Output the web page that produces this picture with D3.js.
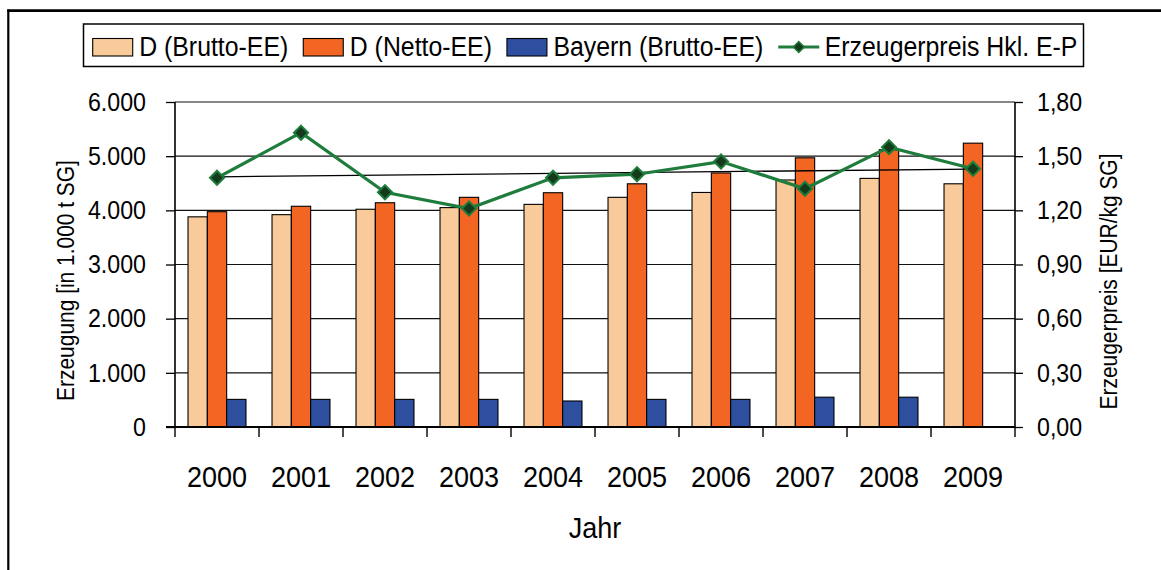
<!DOCTYPE html>
<html>
<head>
<meta charset="utf-8">
<script src="https://cdn.jsdelivr.net/npm/d3@7"></script>
<style>
  html, body { margin: 0; padding: 0; background: #fff; }
  svg { display: block; font-family: "Liberation Sans", Arial, sans-serif; }
</style>
</head>
<body>
<script>
// ---- data ----
const years = ["2000","2001","2002","2003","2004","2005","2006","2007","2008","2009"];
const bruttoD = [3880, 3920, 4020, 4050, 4110, 4240, 4330, 4560, 4590, 4490];
const nettoD  = [3975, 4075, 4140, 4240, 4325, 4490, 4690, 4970, 5120, 5240];
const bayern  = [510, 510, 510, 510, 480, 510, 510, 550, 550, null];
const price   = [1.38, 1.63, 1.30, 1.21, 1.38, 1.40, 1.47, 1.32, 1.55, 1.43];
const leftTicks  = [0, 1000, 2000, 3000, 4000, 5000, 6000];
const rightTicks = [0, 0.3, 0.6, 0.9, 1.2, 1.5, 1.8];
const seriesNames = ["D (Brutto-EE)", "D (Netto-EE)", "Bayern (Brutto-EE)"];
const lineName = "Erzeugerpreis Hkl. E-P";
const seriesColors = ["#F9CB9A", "#F26522", "#2E4EA0"];
const lineColor = "#1E7D3C";
const markerFill = "#163A1C";

const W = 1161, H = 570;
const plot = {left: 175, right: 1015, top: 102, bottom: 427};

const de = d3.formatLocale({decimal: ",", thousands: ".", grouping: [3], currency: ["", " €"]});
const fmtL = de.format(",.0f");
const fmtR = de.format(".2f");

const svg = d3.select("body").append("svg").attr("width", W).attr("height", H);

function condense(sel, f) {
  sel.each(function () {
    const w = this.getComputedTextLength();
    d3.select(this).attr("textLength", w * f).attr("lengthAdjust", "spacingAndGlyphs");
  });
}

// frame (left + top edges)
svg.append("line").attr("x1", 8.3).attr("x2", 8.3).attr("y1", 9.5).attr("y2", H)
  .attr("stroke", "#000").attr("stroke-width", 2.2);
svg.append("line").attr("x1", 7.2).attr("x2", W).attr("y1", 10.7).attr("y2", 10.7)
  .attr("stroke", "#000").attr("stroke-width", 2.8);

// scales
const x = d3.scaleBand().domain(years).range([plot.left, plot.right])
  .paddingInner(0.31).paddingOuter(0.155);
const xs = d3.scaleBand().domain([0, 1, 2]).range([0, x.bandwidth()]).padding(0);
const yL = d3.scaleLinear().domain([0, 6000]).range([plot.bottom, plot.top]);
const yR = d3.scaleLinear().domain([0, 1.8]).range([plot.bottom, plot.top]);

// gridlines
svg.append("g").selectAll("line").data(leftTicks.filter(d => d > 0)).join("line")
  .attr("x1", plot.left).attr("x2", plot.right)
  .attr("y1", d => yL(d)).attr("y2", d => yL(d))
  .attr("stroke", "#111").attr("stroke-width", 1.1);

// bars
const series = [bruttoD, nettoD, bayern];
series.forEach((vals, si) => {
  svg.append("g").selectAll("rect")
    .data(years.map((y, i) => ({year: y, v: vals[i]})).filter(d => d.v != null))
    .join("rect")
    .attr("x", d => x(d.year) + xs(si))
    .attr("width", xs.bandwidth())
    .attr("y", d => yL(d.v))
    .attr("height", d => yL(0) - yL(d.v))
    .attr("fill", seriesColors[si])
    .attr("stroke", "#000").attr("stroke-width", 1.1);
});

// left axis
const axL = svg.append("g").attr("transform", `translate(${plot.left},0)`)
  .call(d3.axisLeft(yL).tickValues(leftTicks).tickFormat(fmtL).tickSize(9).tickPadding(20));
axL.select(".domain").attr("stroke", "#000").attr("stroke-width", 1.6).attr("d", `M-9,${plot.bottom}H0V${plot.top}`);
axL.selectAll(".tick line").attr("stroke", "#000").attr("stroke-width", 1.3);
axL.selectAll("text").attr("font-size", 25.5).attr("fill", "#000")
  .attr("font-family", "Liberation Sans, Arial, sans-serif");
condense(axL.selectAll("text"), 0.91);

// right axis
const axR = svg.append("g").attr("transform", `translate(${plot.right},0)`)
  .call(d3.axisRight(yR).tickValues(rightTicks).tickFormat(fmtR).tickSize(8).tickPadding(14));
axR.select(".domain").attr("stroke", "#000").attr("stroke-width", 1.6).attr("d", `M0,${plot.bottom}V${plot.top}`);
axR.selectAll(".tick line").attr("stroke", "#000").attr("stroke-width", 1.3);
axR.selectAll("text").attr("font-size", 25.5).attr("fill", "#000")
  .attr("font-family", "Liberation Sans, Arial, sans-serif");
condense(axR.selectAll("text"), 0.91);

// x axis
const axX = svg.append("g").attr("transform", `translate(0,${plot.bottom})`)
  .call(d3.axisBottom(x).tickSize(0).tickPadding(38.5));
axX.select(".domain").remove();
axX.selectAll("text").attr("font-size", 30).attr("fill", "#000")
  .attr("font-family", "Liberation Sans, Arial, sans-serif");
condense(axX.selectAll("text"), 0.9);
const bounds = d3.range(years.length + 1).map(i => plot.left + i * x.step());
svg.append("line").attr("x1", plot.left - 9).attr("x2", plot.right)
  .attr("y1", plot.bottom).attr("y2", plot.bottom).attr("stroke", "#000").attr("stroke-width", 1.8);
svg.append("g").selectAll("line").data(bounds).join("line")
  .attr("x1", d => d).attr("x2", d => d)
  .attr("y1", plot.bottom).attr("y2", plot.bottom + 10)
  .attr("stroke", "#000").attr("stroke-width", 1.4);

// trend line (linear regression of price)
const xi = d3.range(years.length);
const mx = d3.mean(xi), my = d3.mean(price);
const slope = d3.sum(xi, i => (i - mx) * (price[i] - my)) / d3.sum(xi, i => (i - mx) ** 2);
const icpt = my - slope * mx;
const cx = i => x(years[i]) + x.bandwidth() / 2;
svg.append("line")
  .attr("x1", cx(0)).attr("x2", cx(years.length - 1))
  .attr("y1", yR(icpt)).attr("y2", yR(icpt + slope * (years.length - 1)))
  .attr("stroke", "#000").attr("stroke-width", 1.3);

// price line
const line = d3.line().x((d, i) => cx(i)).y(d => yR(d));
svg.append("path").datum(price).attr("d", line)
  .attr("fill", "none").attr("stroke", lineColor).attr("stroke-width", 3.2);
const diamond = d3.symbol().type(d3.symbolDiamond2 || d3.symbolDiamond).size(150);
svg.append("g").selectAll("path").data(price).join("path")
  .attr("transform", (d, i) => `translate(${cx(i)},${yR(d)}) rotate(0)`)
  .attr("d", d3.symbol().type(d3.symbolSquare).size(100))
  .attr("transform", (d, i) => `translate(${cx(i)},${yR(d)}) rotate(45)`)
  .attr("fill", markerFill).attr("stroke", lineColor).attr("stroke-width", 2);

// axis titles
const tL = svg.append("text").attr("transform", "translate(66,280.5) rotate(-90)")
  .attr("text-anchor", "middle").attr("dy", "0.35em").attr("font-size", 23)
  .text("Erzeugung [in 1.000 t SG]");
condense(tL, 0.91);
const tR = svg.append("text").attr("transform", "translate(1109,281.5) rotate(-90)")
  .attr("text-anchor", "middle").attr("dy", "0.35em").attr("font-size", 23)
  .text("Erzeugerpreis [EUR/kg SG]");
condense(tR, 0.91);
const tX = svg.append("text").attr("x", (plot.left + plot.right) / 2).attr("y", 538)
  .attr("text-anchor", "middle").attr("font-size", 30).text("Jahr");
condense(tX, 0.9);

// legend
const lg = svg.append("g");
lg.append("rect").attr("x", 83.5).attr("y", 24).attr("width", 1000).attr("height", 42.5)
  .attr("fill", "#fff").attr("stroke", "#000").attr("stroke-width", 1.5);
let lx = 92.7;
const legendItems = seriesNames.map((n, i) => ({name: n, color: seriesColors[i], type: "rect"}))
  .concat([{name: lineName, color: lineColor, type: "line"}]);
legendItems.forEach(it => {
  if (it.type === "rect") {
    lg.append("rect").attr("x", lx).attr("y", 38.5).attr("width", 40).attr("height", 17.5)
      .attr("fill", it.color).attr("stroke", "#000").attr("stroke-width", 1.1);
  } else {
    lg.append("line").attr("x1", lx).attr("x2", lx + 41).attr("y1", 47).attr("y2", 47)
      .attr("stroke", it.color).attr("stroke-width", 3.2);
    lg.append("path").attr("d", d3.symbol().type(d3.symbolSquare).size(60))
      .attr("transform", `translate(${lx + 20.5},47) rotate(45)`)
      .attr("fill", markerFill).attr("stroke", lineColor).attr("stroke-width", 1.5);
  }
  const t = lg.append("text").attr("x", lx + 46.5).attr("y", 56).attr("font-size", 27).text(it.name);
  condense(t, 0.92);
  lx = lx + 46.5 + +t.attr("textLength") + 15;
});
</script>
</body>
</html>
